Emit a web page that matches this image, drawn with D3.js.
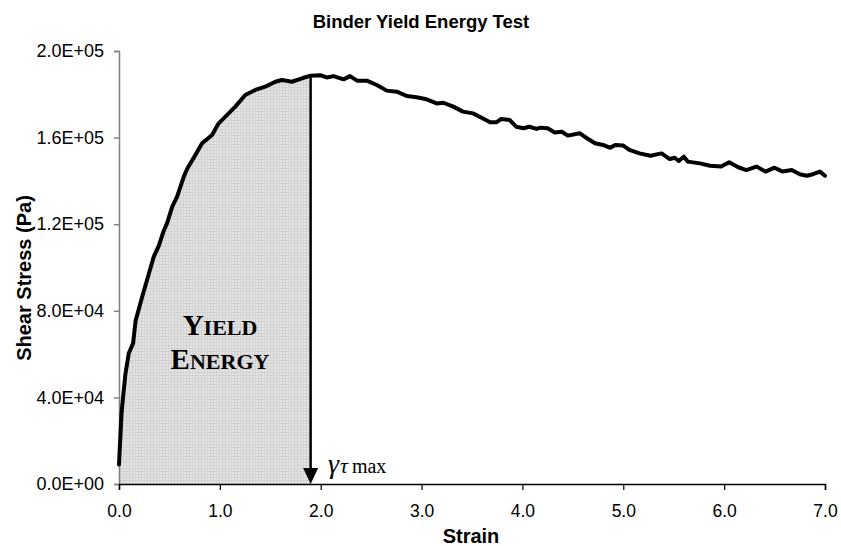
<!DOCTYPE html>
<html>
<head>
<meta charset="utf-8">
<script src="https://cdn.jsdelivr.net/npm/d3@7"></script>
<style>
  html, body { margin: 0; padding: 0; background: #fff; }
  svg { display: block; }
</style>
</head>
<body>
<div id="chart"></div>
<script>
// ---------- data ----------
const strain = [
  0.0, 0.025, 0.04, 0.064, 0.097, 0.14, 0.165, 0.23, 0.295, 0.345,
  0.394, 0.444, 0.477, 0.527, 0.576, 0.642, 0.675, 0.757, 0.824, 0.923,
  0.988, 1.087, 1.153, 1.252, 1.351, 1.45, 1.55, 1.616, 1.715, 1.814,
  1.9, 1.995, 2.06, 2.127, 2.226, 2.29, 2.36, 2.457, 2.556, 2.655,
  2.754, 2.853, 2.95, 3.05, 3.15, 3.216, 3.315, 3.41, 3.51, 3.58,
  3.68, 3.745, 3.79, 3.875, 3.94, 4.01, 4.07, 4.14, 4.18, 4.25,
  4.32, 4.39, 4.45, 4.57, 4.64, 4.72, 4.8, 4.87, 4.92, 5.0,
  5.06, 5.16, 5.27, 5.38, 5.46, 5.51, 5.55, 5.6, 5.64, 5.76,
  5.86, 5.97, 6.05, 6.14, 6.22, 6.32, 6.41, 6.5, 6.58, 6.67,
  6.75, 6.82, 6.88, 6.95, 7.0
];
const stress = [
  9000, 32600, 40000, 51000, 60400, 65000, 75500, 86500, 97000, 105000,
  110000, 117000, 120500, 128000, 132700, 141900, 145500, 152000, 157400, 161200,
  166600, 171200, 174300, 179700, 182000, 183500, 185800, 186600, 185800, 187400,
  188600, 188800, 187800, 188400, 186900, 188400, 186300, 186300, 184300, 181700,
  181200, 179200, 178600, 177700, 175800, 176100, 174300, 172000, 171200, 169500,
  167100, 167100, 168600, 168100, 165000, 164300, 165000, 164000, 164600, 164300,
  162400, 162700, 160900, 162000, 159700, 157400, 156600, 155300, 156600, 156300,
  154300, 152700, 151600, 152700, 150100, 150700, 149200, 151200, 148900, 148100,
  147000, 146600, 148600, 146300, 145000, 146600, 144300, 146100, 144300, 145000,
  143100, 142400, 143100, 144300, 142400
];
const yieldStrain = 1.9;
const xTicks = [0, 1, 2, 3, 4, 5, 6, 7];
const yTicks = [0, 40000, 80000, 120000, 160000, 200000];
const yTickLabels = ["0.0E+00", "4.0E+04", "8.0E+04", "1.2E+05", "1.6E+05", "2.0E+05"];
const titleText = "Binder Yield Energy Test";
const xTitle = "Strain";
const yTitle = "Shear Stress (Pa)";

// ---------- layout ----------
const W = 841, H = 546;
const mLeft = 119, mRight = 825, mTop = 51, mBottom = 484;

const svg = d3.select("#chart").append("svg")
  .attr("width", W).attr("height", H)
  .style("font-family", "Arial, 'Liberation Sans', sans-serif");

const x = d3.scaleLinear().domain([0, 7]).range([mLeft, mRight]);
const y = d3.scaleLinear().domain([0, 200000]).range([mBottom, mTop]);

const pts = strain.map((s, i) => ({ s, v: stress[i] }));

// pattern fill
const defs = svg.append("defs");
const pat = defs.append("pattern").attr("id", "dots")
  .attr("width", 3).attr("height", 3).attr("patternUnits", "userSpaceOnUse");
pat.append("rect").attr("width", 3).attr("height", 3).attr("fill", "#e4e4e4");
pat.append("rect").attr("width", 3).attr("height", 1).attr("fill", "#d2d2d2");
pat.append("rect").attr("width", 1).attr("height", 3).attr("fill", "#d2d2d2");

// area under curve up to yield strain
const areaPts = [{ s: 0, v: 0 }].concat(pts.filter(d => d.s <= yieldStrain));
const area = d3.area().x(d => x(d.s)).y0(y(0)).y1(d => y(d.v));
svg.append("path").datum(areaPts).attr("d", area).attr("fill", "url(#dots)");

// title
svg.append("text").attr("x", 421).attr("y", 28).attr("text-anchor", "middle")
  .attr("font-size", 18.5).attr("font-weight", "bold").text(titleText);

// y axis
const yAxis = d3.axisLeft(y).tickValues(yTicks)
  .tickFormat((d, i) => yTickLabels[i]).tickSize(5).tickPadding(10);
const gy = svg.append("g").attr("transform", `translate(${mLeft},0)`).call(yAxis);
gy.select(".domain").attr("stroke", "#808080").attr("stroke-width", 1.5);
gy.selectAll(".tick line").attr("stroke", "#808080").attr("stroke-width", 1.5);
gy.selectAll(".tick text").attr("font-size", 18).attr("fill", "#000")
  .attr("font-family", "Arial, 'Liberation Sans', sans-serif");

// x axis
const xAxis = d3.axisBottom(x).tickValues(xTicks)
  .tickFormat(d3.format(".1f")).tickSize(6).tickPadding(15);
const gx = svg.append("g").attr("transform", `translate(0,${mBottom})`).call(xAxis);
gx.select(".domain").attr("stroke", "#000").attr("stroke-width", 1.5);
gx.selectAll(".tick line").attr("stroke", "#000").attr("stroke-width", 1.2);
gx.selectAll(".tick text").attr("font-size", 17.5).attr("fill", "#000")
  .attr("font-family", "Arial, 'Liberation Sans', sans-serif");

// axis titles
svg.append("text").attr("x", 471).attr("y", 543).attr("text-anchor", "middle")
  .attr("font-size", 20).attr("font-weight", "bold").text(xTitle);
svg.append("text").attr("transform", "translate(31,278) rotate(-90)")
  .attr("text-anchor", "middle").attr("font-size", 20).attr("font-weight", "bold").text(yTitle);

// curve
const line = d3.line().x(d => x(d.s)).y(d => y(d.v));
svg.append("path").datum(pts).attr("d", line)
  .attr("fill", "none").attr("stroke", "#000").attr("stroke-width", 4)
  .attr("stroke-linejoin", "round").attr("stroke-linecap", "round");

// vertical arrow at yield strain
const peak = pts.find(d => d.s === yieldStrain);
const ax = x(yieldStrain);
svg.append("line").attr("x1", ax).attr("x2", ax)
  .attr("y1", y(peak.v)).attr("y2", y(0) - 12)
  .attr("stroke", "#000").attr("stroke-width", 2.5);
svg.append("path")
  .attr("d", `M${ax - 7.5},${y(0) - 16} L${ax + 7.5},${y(0) - 16} L${ax},${y(0)} Z`)
  .attr("fill", "#000");

// annotation text
const serif = "'Times New Roman', 'Liberation Serif', serif";
const t1 = svg.append("text").attr("x", 220).attr("y", 335).attr("text-anchor", "middle")
  .attr("font-family", serif).attr("font-weight", "bold");
t1.append("tspan").attr("font-size", 29).text("Y");
t1.append("tspan").attr("font-size", 22).text("IELD");
const t2 = svg.append("text").attr("x", 220).attr("y", 369).attr("text-anchor", "middle")
  .attr("font-family", serif).attr("font-weight", "bold");
t2.append("tspan").attr("font-size", 29).text("E");
t2.append("tspan").attr("font-size", 22).text("NERGY");

const g = svg.append("text").attr("x", 328).attr("y", 473).attr("font-family", serif);
g.append("tspan").attr("font-size", 28).attr("font-style", "italic").text("γ");
g.append("tspan").attr("font-size", 22).attr("font-style", "italic").attr("dx", 1).text("τ");
g.append("tspan").attr("font-size", 20).attr("dx", 4).text("max");
</script>
</body>
</html>
